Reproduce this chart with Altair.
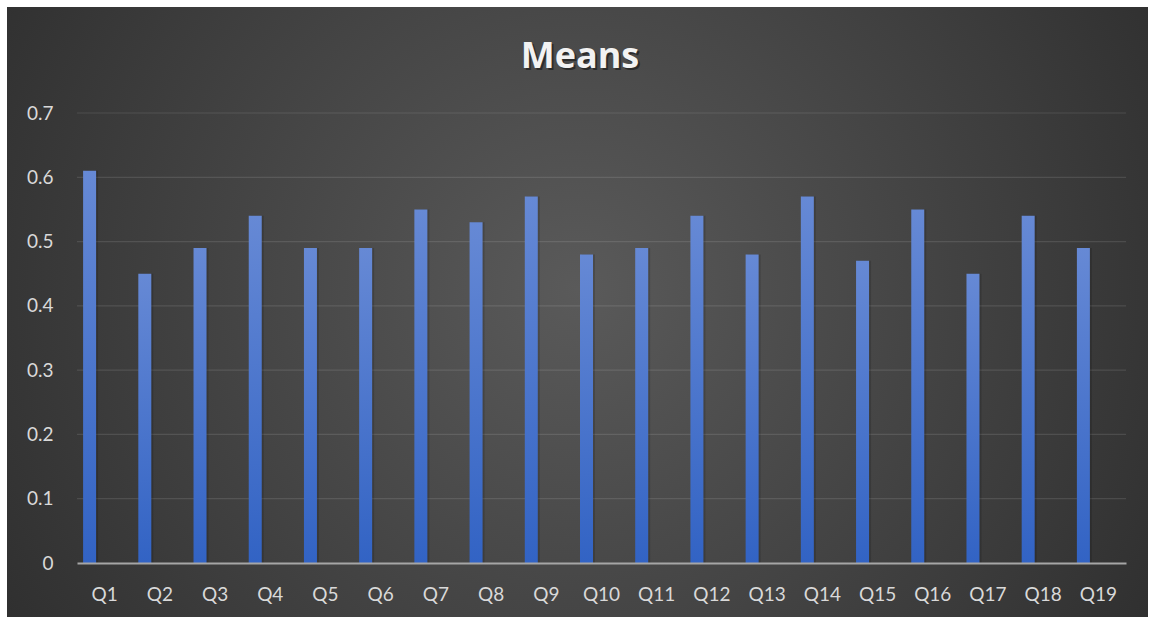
import altair as alt
import pandas as pd

categories = ["Q1", "Q2", "Q3", "Q4", "Q5", "Q6", "Q7", "Q8", "Q9", "Q10",
              "Q11", "Q12", "Q13", "Q14", "Q15", "Q16", "Q17", "Q18", "Q19"]
means = [0.61, 0.45, 0.49, 0.54, 0.49, 0.49, 0.55, 0.53, 0.57, 0.48,
         0.49, 0.54, 0.48, 0.57, 0.47, 0.55, 0.45, 0.54, 0.49]
grid_values = [0.1, 0.2, 0.3, 0.4, 0.5, 0.6, 0.7]
y_ticks = [0, 0.1, 0.2, 0.3, 0.4, 0.5, 0.6, 0.7]
title_text = "Means"

W, H = 1049, 450
FONT = "Lato"

df = pd.DataFrame({"q": categories, "mean": means})
grid_df = pd.DataFrame({"v": grid_values})
one = pd.DataFrame({"t": [title_text]})

xscale = alt.Scale(domain=categories, paddingInner=0, paddingOuter=0)
yscale = alt.Scale(domain=[0, 0.7], nice=False, zero=True)

bg = alt.Chart(one).mark_rect(
    color=alt.Gradient(
        gradient="radial",
        x1=0.5, y1=0.48, r1=0,
        x2=0.5, y2=0.48, r2=0.75,
        stops=[alt.GradientStop(offset=0, color="#5a5a5a"),
               alt.GradientStop(offset=0.55, color="#3c3c3c"),
               alt.GradientStop(offset=1, color="#232323")],
    )
).encode(
    x=alt.value(-70), x2=alt.value(1071),
    y=alt.value(-106), y2=alt.value(504),
)

grid = alt.Chart(grid_df).mark_rule(color="#ffffff", opacity=0.11, strokeWidth=1.2).encode(
    y=alt.Y("v:Q", scale=yscale),
    x=alt.value(0), x2=alt.value(W),
)

shadow = alt.Chart(df).mark_bar(width=13, xOffset=-13, color="#000000", opacity=0.15).encode(
    x=alt.X("q:N", scale=xscale, sort=categories),
    y=alt.Y("mean:Q", scale=yscale),
)

bars = alt.Chart(df).mark_bar(
    width=13, xOffset=-15,
    color=alt.Gradient(
        gradient="linear", x1=0, y1=0, x2=0, y2=1,
        stops=[alt.GradientStop(offset=0, color="#6689d5"),
               alt.GradientStop(offset=1, color="#3263c4")],
    ),
).encode(
    x=alt.X("q:N", scale=xscale, sort=categories,
            axis=alt.Axis(title=None, labelAngle=0, labelAlign="center",
                          bandPosition=0.5, ticks=False, domain=True,
                          domainColor="#a6a6a6", domainWidth=2.2,
                          labelColor="#d9d9d9", labelFont=FONT, labelFontSize=19,
                          labelPadding=31, grid=False, zindex=1)),
    y=alt.Y("mean:Q", scale=yscale,
            axis=alt.Axis(title=None, values=y_ticks, format="~g", ticks=False,
                          domain=False, grid=False, labelColor="#d9d9d9",
                          labelFont=FONT, labelFontSize=19, labelPadding=24,
                          zindex=1)),
)

title_shadow = alt.Chart(one).mark_text(
    font="Open Sans", fontSize=36, fontWeight="bold", color="#111111", opacity=0.55,
    align="center", baseline="alphabetic",
).encode(text="t:N", x=alt.value(505), y=alt.value(-43))

title = alt.Chart(one).mark_text(
    font="Open Sans", fontSize=36, fontWeight="bold", color="#f2f2f2",
    align="center", baseline="alphabetic",
).encode(text="t:N", x=alt.value(503), y=alt.value(-45))

chart = alt.layer(bg, grid, shadow, bars, title_shadow, title).properties(
    width=W, height=H,
    padding={"left": 77, "top": 113, "right": 23, "bottom": 56},
    autosize=alt.AutoSizeParams(type="none"),
    background="#ffffff",
).configure_view(stroke=None)

chart.save("out.html", embed_options={"renderer": "svg", "actions": False})
